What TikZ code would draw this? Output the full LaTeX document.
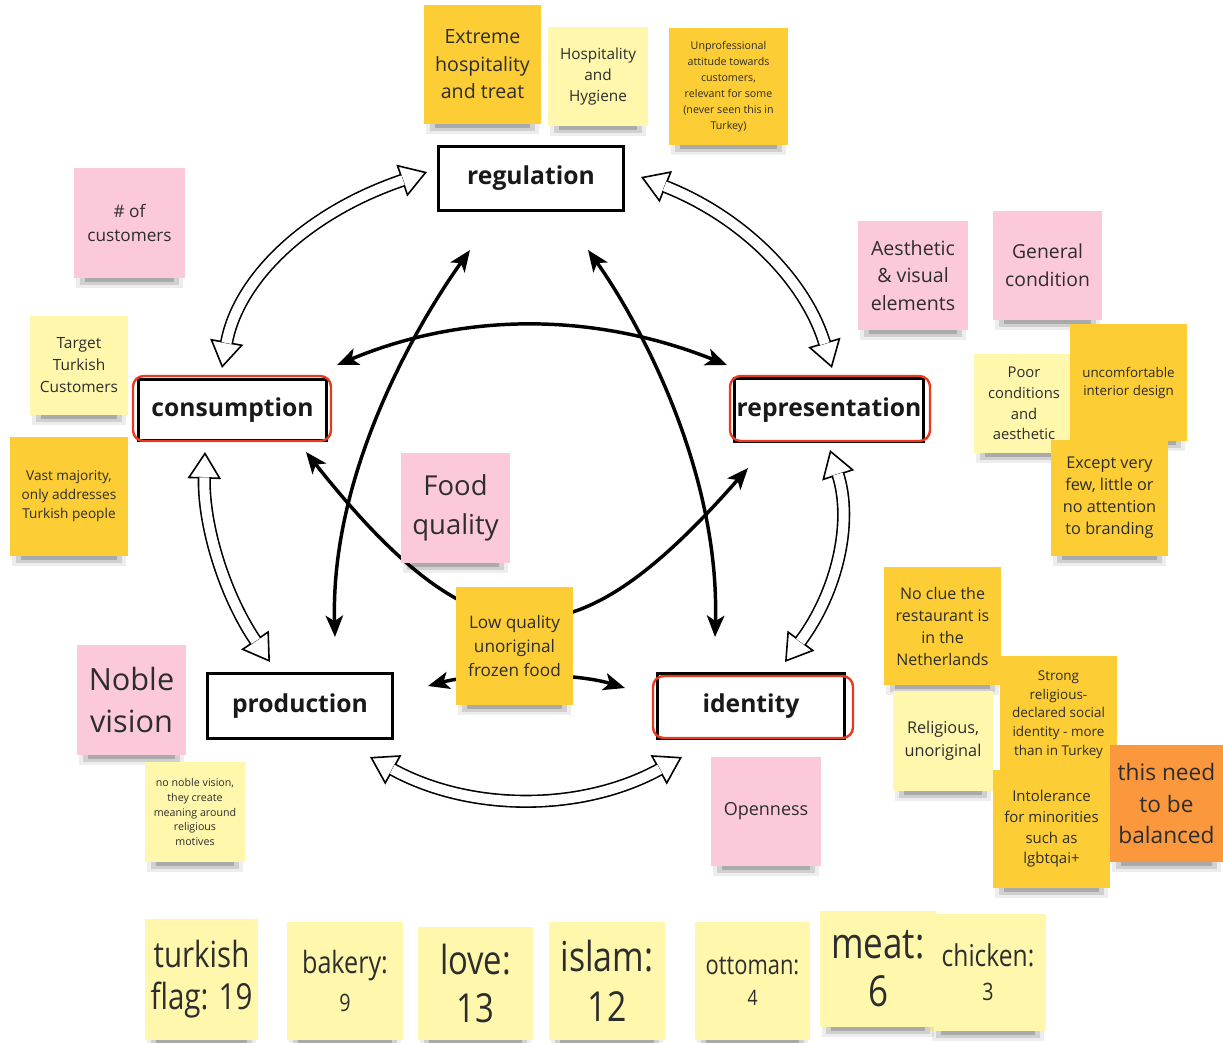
\documentclass[tikz,border=0pt]{standalone}
\usepackage{fontspec}
\setmainfont{Open Sans}
\newfontfamily\condfont[FakeStretch=0.82]{Open Sans}
\usetikzlibrary{arrows.meta}
\definecolor{stpink}{RGB}{252,201,219}
\definecolor{stlight}{RGB}{255,247,172}
\definecolor{styellow}{RGB}{252,205,52}
\definecolor{storange}{RGB}{251,152,62}
\definecolor{redline}{RGB}{232,58,30}
\definecolor{txt}{RGB}{45,45,45}
\definecolor{fadetxt}{RGB}{125,105,45}
\newcommand\fs[2]{\fontsize{#1}{#2}\selectfont}
\newcommand\sticky[8]{%
 \fill[black,opacity=.07] ({#2+2},{#5-6}) rectangle ({#4-2},{#5+10});
 \fill[black,opacity=.12] ({#2+6},{#5-6}) rectangle ({#4-6},{#5+7});
 \fill[black,opacity=.18] ({#2+11},{#5-6}) rectangle ({#4-11},{#5+4});
 \node[sticky, fill=#6, font={#7}, minimum width={(#4-#2)*0.75pt}, minimum height={(#5-#3)*0.75pt}] (#1) at ({(#2+#4)/2},{(#3+#5)/2}) {#8};}
\newcommand\hollowarrow[4]{%
 \draw[white, line width=0.2pt, {Triangle[black,fill=white,length=20pt,width=25pt,line width=1.2pt]}-{Triangle[black,fill=white,length=20pt,width=25pt,line width=1.2pt]}] (#1) .. controls #2 and #3 .. (#4);
 \draw[black, line width=1.2pt, double=white, double distance=7.5pt, shorten <=19pt, shorten >=19pt] (#1) .. controls #2 and #3 .. (#4);}
\begin{document}
\begin{tikzpicture}[x=0.75pt,y=-0.75pt,
  sticky/.style={inner sep=0pt, align=center, text=txt},
  cbox/.style={draw=black, line width=2.3pt, fill=white, inner sep=0pt, font=\bfseries\fs{18.5}{22}, text=black!90},
  hl/.style={draw=redline, line width=1.8pt, rounded corners=8pt, inner sep=0pt},
  blk/.style={line width=2.6pt, {Stealth[length=16pt,width=13pt,inset=4pt]}-{Stealth[length=16pt,width=13pt,inset=4pt]}}]
\fill[white] (0,0) rectangle (1223,1042);
\useasboundingbox (0,0) rectangle (1223,1042);

% main boxes
\node[cbox, minimum width=138.75pt, minimum height=48pt] (regulation) at (531,178.5) {regulation};
\node[cbox, minimum width=141pt, minimum height=45.75pt] (consumption) at (232.5,410) {consumption};
\node[cbox, minimum width=141.75pt, minimum height=47.25pt] (representation) at (829,410) {representation};
\node[cbox, minimum width=138.75pt, minimum height=48.75pt] (production) at (300,706) {production};
\node[cbox, minimum width=140.25pt, minimum height=48.75pt] (identity) at (751,706) {identity};
\node[hl, minimum width=148.5pt, minimum height=48.75pt] (conshl) at (232,408.5) {};
\node[hl, minimum width=150pt, minimum height=48.75pt] (reprhl) at (830,408.5) {};
\node[hl, minimum width=150pt, minimum height=46.5pt] (identhl) at (753,707) {};

% hollow double arrows
\coordinate (h1a) at (222,368); \coordinate (h1b) at (427,172);
\coordinate (h2a) at (641,177); \coordinate (h2b) at (832,368);
\coordinate (h3a) at (830,450); \coordinate (h3b) at (785,662);
\coordinate (h4a) at (682,757); \coordinate (h4b) at (370,757);
\coordinate (h5a) at (270,662); \coordinate (h5b) at (205,452);
\hollowarrow{h1a}{(238,279)}{(306,213)}{h1b}
\hollowarrow{h2a}{(743,217)}{(806,281)}{h2b}
\hollowarrow{h3a}{(853,521)}{(838,591)}{h3b}
\hollowarrow{h4a}{(582,812)}{(470,812)}{h4b}
\hollowarrow{h5a}{(225,596)}{(203,526)}{h5b}

% black arrows
\coordinate (b1a) at (337,365); \coordinate (b1b) at (727,365);
\coordinate (b2a) at (470,250); \coordinate (b2b) at (335,637);
\coordinate (b3a) at (588,250); \coordinate (b3b) at (715,637);
\coordinate (b4a) at (306,452); \coordinate (b4b) at (748,468);
\coordinate (b5a) at (428,686); \coordinate (b5b) at (625,688);
\draw[blk] (b1a) .. controls (464,312) and (594,312) .. (b1b);
\draw[blk] (b2a) .. controls (420,320) and (330,470) .. (b2b);
\draw[blk] (b3a) .. controls (638,320) and (720,470) .. (b3b);
\draw[blk] (b4a) .. controls (480,672) and (575,665) .. (b4b);
\draw[blk] (b5a) .. controls (480,672) and (573,672) .. (b5b);

% top stickies
\sticky{extreme}{424}{5}{541}{124}{styellow}{\fs{14.7}{20.6}}{Extreme\\hospitality\\and treat}
\sticky{hosp}{548}{27}{648}{126}{stlight}{\fs{11.5}{16.1}}{Hospitality\\and\\Hygiene}
\sticky{unprof}{669}{28}{788}{145}{styellow}{\fs{8}{12}\color{fadetxt}}{Unprofessional\\attitude towards\\customers,\\relevant for some\\(never seen this in\\Turkey)}

% left stickies
\sticky{ncust}{74}{168}{185}{278}{stpink}{\fs{12.9}{18}}{\# of\\customers}
\sticky{target}{30}{316}{128}{415}{stlight}{\fs{11.6}{16.5}}{Target\\Turkish\\Customers}
\sticky{vast}{10}{437}{128}{556}{styellow}{\fs{10.2}{14.3}\color{fadetxt}}{Vast majority,\\only addresses\\Turkish people}
\sticky{noble}{77}{645}{186}{755}{stpink}{\fs{23}{31.5}}{Noble\\vision}
\sticky{nonoble}{145}{762}{245}{862}{stlight}{\fs{8}{11.2}\color{fadetxt}}{no noble vision,\\they create\\meaning around\\religious\\motives}

% center stickies
\sticky{food}{401}{453}{510}{563}{stpink}{\fs{20.6}{29.3}}{Food\\quality}
\sticky{lowq}{456}{587}{573}{705}{styellow}{\fs{12.9}{18}}{Low quality\\unoriginal\\frozen food}

% right stickies
\sticky{aesth}{858}{221}{968}{330}{stpink}{\fs{14.7}{20.6}}{Aesthetic\\\& visual\\elements}
\sticky{general}{993}{211}{1102}{320}{stpink}{\fs{14.5}{21}}{General\\condition}
\sticky{poor}{974}{354}{1074}{453}{stlight}{\fs{11.1}{15.5}}{Poor\\conditions\\and\\aesthetic}
\sticky{uncomf}{1070}{324}{1187}{441}{styellow}{\fs{10}{13.5}\color{fadetxt}}{uncomfortable\\interior design}
\sticky{except}{1051}{440}{1168}{556}{styellow}{\fs{12.2}{16.5}}{Except very\\few, little or\\no attention\\to branding}
\sticky{noclue}{884}{567}{1001}{685}{styellow}{\fs{12}{16.5}}{No clue the\\restaurant is\\in the\\Netherlands}
\sticky{strong}{1000}{656}{1117}{773}{styellow}{\fs{10.1}{14}\color{fadetxt}}{Strong\\religious-\\declared social\\identity - more\\than in Turkey}
\sticky{religious}{893}{691}{993}{791}{stlight}{\fs{12.2}{17.3}}{Religious,\\unoriginal}
\sticky{intol}{993}{770}{1110}{888}{styellow}{\fs{11.2}{15.5}}{Intolerance\\for minorities\\such as\\lgbtqai+}
\sticky{balanced}{1110}{745}{1223}{862}{storange}{\fs{17}{23.3}}{this need\\to be\\balanced}
\sticky{openness}{711}{757}{821}{866}{stpink}{\fs{13.5}{18}}{Openness}

% bottom stickies
\sticky{turkish}{145}{919}{258}{1040}{stlight}{\condfont\fs{27}{31.5}}{turkish\\flag: 19}
\sticky{bakery}{287}{922}{403}{1040}{stlight}{\condfont\fs{23}{29}}{bakery:\\{\fs{18}{29}9}}
\sticky{love}{418}{927}{533}{1040}{stlight}{\condfont\fs{30}{36}}{love:\\13}
\sticky{islam}{549}{922}{665}{1040}{stlight}{\condfont\fs{31}{37.5}}{islam:\\12}
\sticky{ottoman}{695}{922}{810}{1040}{stlight}{\condfont\fs{20}{23}}{ottoman:\\{\fs{16}{23}4}}
\sticky{chicken}{930}{914}{1046}{1031}{stlight}{\condfont\fs{22.5}{25.5}}{chicken:\\{\fs{18}{25.5}3}}
\sticky{meat}{820}{911}{936}{1027}{stlight}{\condfont\fs{32}{36}}{meat:\\6}
\end{tikzpicture}
\end{document}
